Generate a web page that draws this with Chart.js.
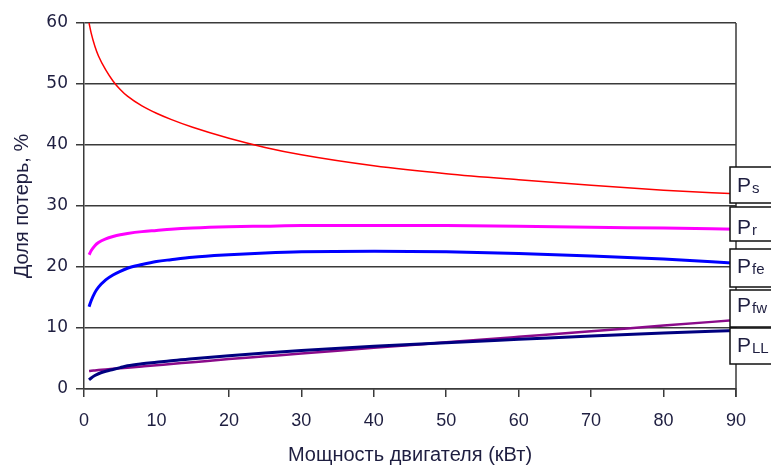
<!DOCTYPE html>
<html>
<head>
<meta charset="utf-8">
<script src="https://cdn.jsdelivr.net/npm/chart.js@4"></script>
<style>
  body { margin: 0; background: #fff; }
  canvas { display: block; }
</style>
</head>
<body>
<canvas id="lossChart" width="771" height="468"></canvas>
<script>
// motor power, kW
const powerKw = [0.7, 1, 1.5, 2, 3, 4, 5, 6, 8, 10, 12, 15, 20, 25, 30, 40, 50, 60, 70, 80, 90];

// share of losses, %
const lossPs  = [60, 58.3, 56.2, 54.6, 52.3, 50.5, 49.1, 48.0, 46.4, 45.2, 44.2, 42.9, 41.1, 39.6, 38.4, 36.6, 35.3, 34.3, 33.4, 32.6, 32];
const lossPr  = [22, 22.7, 23.5, 24, 24.6, 25, 25.3, 25.5, 25.8, 26, 26.2, 26.4, 26.6, 26.7, 26.8, 26.8, 26.8, 26.7, 26.5, 26.4, 26.2];
const lossPfe = [13.5, 14.5, 15.8, 16.7, 17.9, 18.7, 19.3, 19.8, 20.4, 20.9, 21.2, 21.6, 22.0, 22.3, 22.5, 22.6, 22.5, 22.2, 21.8, 21.3, 20.6];
const lossPfw = [2.95, 3.0, 3.05, 3.1, 3.2, 3.3, 3.4, 3.5, 3.7, 3.9, 4.1, 4.4, 4.9, 5.35, 5.8, 6.75, 7.65, 8.55, 9.45, 10.4, 11.3];
const lossPll = [1.5, 1.8, 2.2, 2.5, 2.9, 3.2, 3.5, 3.8, 4.15, 4.4, 4.65, 4.95, 5.45, 5.9, 6.3, 7.0, 7.6, 8.15, 8.7, 9.2, 9.6];

const xTicks = [0, 10, 20, 30, 40, 50, 60, 70, 80, 90];
const yTicks = [0, 10, 20, 30, 40, 50, 60];

// legend boxes on the right: main letter + subscript
const seriesLabels = [["P", "s"], ["P", "r"], ["P", "fe"], ["P", "fw"], ["P", "LL"]];

function points(values) {
  return values.map((v, i) => ({ x: powerKw[i], y: v }));
}

const textColor = "#1e1e40";
const gridColor = "#3a3a3a";

// right edge line + label boxes
const sideLabels = {
  id: "sideLabels",
  afterDraw(chart) {
    const ctx = chart.ctx;
    const area = chart.chartArea;
    ctx.save();
    ctx.strokeStyle = gridColor;
    ctx.lineWidth = 1.5;
    ctx.beginPath();
    ctx.moveTo(area.right, area.top);
    ctx.lineTo(area.right, area.bottom + 8);
    ctx.stroke();

    const boxes = [[167, 203], [207, 241], [249, 287], [290, 327], [328, 364]];
    const baselines = [192, 234, 273, 312, 352];
    boxes.forEach((b, i) => {
      ctx.fillStyle = "#fff";
      ctx.fillRect(730, b[0], 60, b[1] - b[0]);
      ctx.strokeStyle = "#111";
      ctx.lineWidth = 1.5;
      ctx.strokeRect(730, b[0], 60, b[1] - b[0]);
      ctx.fillStyle = textColor;
      ctx.textBaseline = "alphabetic";
      ctx.font = "21px 'Liberation Sans', Arial, sans-serif";
      ctx.fillText(seriesLabels[i][0], 737, baselines[i]);
      const w = ctx.measureText(seriesLabels[i][0]).width;
      ctx.font = "15px 'Liberation Sans', Arial, sans-serif";
      ctx.fillText(seriesLabels[i][1], 737 + w + 1, baselines[i] + 1);
    });
    ctx.restore();
  }
};

const ctx = document.getElementById("lossChart").getContext("2d");

new Chart(ctx, {
  type: "line",
  data: {
    datasets: [
      { data: points(lossPll), borderColor: "#000080", borderWidth: 3 },
      { data: points(lossPfw), borderColor: "#8a0a8a", borderWidth: 2.5 },
      { data: points(lossPfe), borderColor: "#0000ff", borderWidth: 3 },
      { data: points(lossPr),  borderColor: "#ff00ff", borderWidth: 3 },
      { data: points(lossPs),  borderColor: "#ff0000", borderWidth: 1.5 }
    ]
  },
  options: {
    responsive: false,
    animation: false,
    layout: { padding: { top: 23, right: 35, left: 0, bottom: 0 } },
    elements: {
      point: { radius: 0 },
      line: { cubicInterpolationMode: "monotone", fill: false }
    },
    plugins: {
      legend: { display: false },
      tooltip: { enabled: false }
    },
    scales: {
      x: {
        type: "linear",
        min: 0,
        max: 90,
        afterBuildTicks: (scale) => { scale.ticks = xTicks.map(v => ({ value: v })); },
        afterFit: (scale) => { scale.height = 79; },
        grid: { drawOnChartArea: false, color: gridColor, lineWidth: 1.5, tickLength: 8 },
        border: { color: gridColor, width: 1.5 },
        ticks: {
          padding: 13,
          color: textColor,
          maxRotation: 0,
          font: { family: "'Liberation Sans Narrow', 'Liberation Sans', sans-serif", size: 18 }
        },
        title: {
          display: true,
          text: "Мощность двигателя (кВт)",
          color: textColor,
          padding: { top: 0, bottom: 1 },
          font: { family: "'Liberation Sans', Arial, sans-serif", size: 20 }
        }
      },
      y: {
        min: 0,
        max: 60,
        afterBuildTicks: (scale) => { scale.ticks = yTicks.map(v => ({ value: v })); },
        afterFit: (scale) => { scale.width = 84; },
        grid: { color: gridColor, lineWidth: 1.5, tickLength: 8 },
        border: { color: gridColor, width: 1.5 },
        ticks: {
          padding: 8,
          color: textColor,
          font: { family: "'DejaVu Sans', Verdana, sans-serif", size: 17 }
        },
        title: {
          display: true,
          text: "Доля потерь, %",
          color: textColor,
          padding: { top: 10, bottom: 0 },
          font: { family: "'Liberation Sans', Arial, sans-serif", size: 20 }
        }
      }
    }
  },
  plugins: [sideLabels]
});
</script>
</body>
</html>
